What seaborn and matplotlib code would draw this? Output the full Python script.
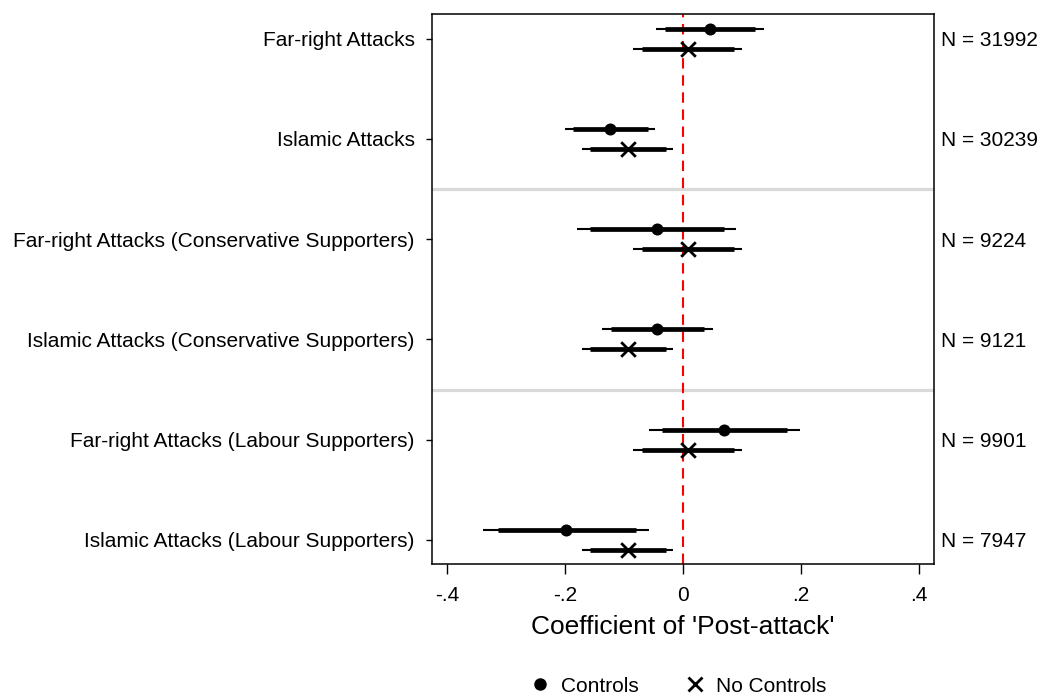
import matplotlib
matplotlib.use("Agg")
import matplotlib.pyplot as plt
from matplotlib.lines import Line2D
import numpy as np
import pandas as pd
import seaborn as sns

# Sample labels (top to bottom) and sample sizes
groups = [
    "Far-right Attacks",
    "Islamic Attacks",
    "Far-right Attacks (Conservative Supporters)",
    "Islamic Attacks (Conservative Supporters)",
    "Far-right Attacks (Labour Supporters)",
    "Islamic Attacks (Labour Supporters)",
]
n_obs = ["N = 31992", "N = 30239", "N = 9224", "N = 9121", "N = 9901", "N = 7947"]

# Estimates with controls: coefficient, 95% CI, 90% CI
ctrl_coef = [0.046, -0.123, -0.044, -0.043, 0.070, -0.198]
ctrl_lo95 = [-0.045, -0.199, -0.179, -0.137, -0.057, -0.338]
ctrl_hi95 = [0.137, -0.047, 0.091, 0.051, 0.198, -0.058]
ctrl_lo90 = [-0.030, -0.186, -0.158, -0.122, -0.036, -0.314]
ctrl_hi90 = [0.122, -0.059, 0.070, 0.036, 0.177, -0.080]

# Estimates without controls
noctrl_coef = [0.009, -0.093, 0.009, -0.093, 0.009, -0.093]
noctrl_lo95 = [-0.084, -0.171, -0.084, -0.171, -0.084, -0.171]
noctrl_hi95 = [0.101, -0.016, 0.101, -0.016, 0.101, -0.016]
noctrl_lo90 = [-0.069, -0.158, -0.069, -0.158, -0.069, -0.158]
noctrl_hi90 = [0.087, -0.028, 0.087, -0.028, 0.087, -0.028]

xticks = [-0.4, -0.2, 0.0, 0.2, 0.4]
xtick_labels = ["-.4", "-.2", "0", ".2", ".4"]

sns.set_theme(style="white")
plt.rcParams["font.family"] = ["Liberation Sans", "DejaVu Sans"]
plt.rcParams["text.color"] = "black"

pos = np.arange(1, len(groups) + 1)
offset = 0.1
fs = 15.0

df = pd.concat([
    pd.DataFrame({"y": pos - offset, "coef": ctrl_coef, "lo95": ctrl_lo95,
                  "hi95": ctrl_hi95, "lo90": ctrl_lo90, "hi90": ctrl_hi90,
                  "model": "Controls"}),
    pd.DataFrame({"y": pos + offset, "coef": noctrl_coef, "lo95": noctrl_lo95,
                  "hi95": noctrl_hi95, "lo90": noctrl_lo90, "hi90": noctrl_hi90,
                  "model": "No Controls"}),
], ignore_index=True)

fig = plt.figure(figsize=(10.41, 6.96), dpi=100)
ax = fig.add_axes([431.5 / 1041, 1 - 564 / 696, (934 - 431.5) / 1041, (564 - 13.5) / 696])

# separators between sample blocks
for yy in [2.5, 4.5]:
    ax.axhline(yy, color="#d9d9d9", lw=2.3, zorder=1)

# zero reference line
ax.axvline(0, color="red", lw=1.5, dashes=(5, 3.2), zorder=2)

# confidence intervals
ax.hlines(df["y"], df["lo95"], df["hi95"], color="black", lw=1.5, zorder=3)
ax.hlines(df["y"], df["lo90"], df["hi90"], color="black", lw=3.4, zorder=3)

sns.scatterplot(data=df[df["model"] == "Controls"], x="coef", y="y", ax=ax,
                marker="o", s=75, color="black", edgecolor="black", linewidth=0,
                zorder=4, legend=False)
sns.scatterplot(data=df[df["model"] == "No Controls"], x="coef", y="y", ax=ax,
                marker="x", s=110, color="black", linewidth=2.0,
                zorder=4, legend=False)

ax.set_xlim(-0.426, 0.426)
ax.set_ylim(6.24, 0.75)
ax.set_xticks(xticks)
ax.set_xticklabels(xtick_labels)
ax.set_yticks(pos)
ax.set_yticklabels(groups)
ax.set_ylabel("")
ax.set_xlabel("Coefficient of 'Post-attack'", fontsize=19, labelpad=7, color="black")

for sp in ax.spines.values():
    sp.set_color("black")
    sp.set_linewidth(1.1)

ax.tick_params(axis="y", left=True, length=4, width=1.0, pad=8,
               labelsize=fs, colors="black")
ax.tick_params(axis="x", bottom=True, length=7, width=1.0, pad=9,
               labelsize=fs, colors="black")

# sample sizes on the right
ax2 = ax.twinx()
ax2.set_ylim(ax.get_ylim())
ax2.set_yticks(pos)
ax2.set_yticklabels(n_obs)
ax2.tick_params(axis="y", right=True, length=0, pad=5, labelsize=fs, colors="black")
ax2.grid(False)
for sp in ax2.spines.values():
    sp.set_visible(False)

handles = [
    Line2D([], [], marker="o", color="black", linestyle="none", markersize=8),
    Line2D([], [], marker="x", color="black", linestyle="none", markersize=10,
           markeredgewidth=2.0),
]
ax.legend(handles, ["Controls", "No Controls"], loc="center",
          bbox_to_anchor=(0.49, -0.222), ncol=2, frameon=False,
          fontsize=fs, handletextpad=0.5, columnspacing=2.2,
          handlelength=1.0, labelcolor="black")

fig.savefig("out.png", dpi=100)
